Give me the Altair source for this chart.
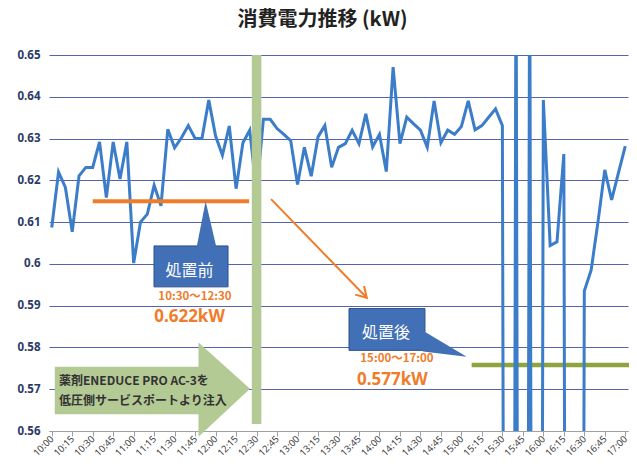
import altair as alt
import pandas as pd

# ---- data ----
minutes = list(range(0, 421, 5))  # 10:00 .. 17:00 every 5 minutes
power_kw = [
    0.6087, 0.6220, 0.6183, 0.6077, 0.6211, 0.6231, 0.6231, 0.6292, 0.6159, 0.6292,
    0.6203, 0.6292, 0.6002, 0.6100, 0.6119, 0.6188, 0.6139, 0.6322, 0.6278, 0.6302,
    0.6331, 0.6300, 0.6300, 0.6392, 0.6306, 0.6260, 0.6330, 0.6180, 0.6290, 0.6320,
    0.6170, 0.6346, 0.6346, 0.6324, 0.6310, 0.6295, 0.6190, 0.6279, 0.6210, 0.6304,
    0.6331, 0.6231, 0.6279, 0.6288, 0.6320, 0.6288, 0.6359, 0.6280, 0.6310, 0.6221,
    0.6471, 0.6288, 0.6351, 0.6335, 0.6320, 0.6279, 0.6390, 0.6290, 0.6320, 0.6310,
    0.6329, 0.6390, 0.6321, 0.6331, 0.6351, 0.6371, 0.6331, 0.0, 0.68, 0.0,
    0.68, 0.0, 0.6392, 0.6044, 0.6053, 0.6263, 0.0, 0.0, 0.5935, 0.5985,
    0.6100, 0.6225, 0.6153, 0.6218, 0.6282,
]
tick_minutes = list(range(0, 421, 15))
y_ticks = [0.56, 0.57, 0.58, 0.59, 0.60, 0.61, 0.62, 0.63, 0.64, 0.65]

title_text = "消費電力推移 (kW)"
before_label = "処置前"
before_period = "10:30～12:30"
before_value = "0.622kW"
after_label = "処置後"
after_period = "15:00～17:00"
after_value = "0.577kW"
inject_lines = ["薬剤ENEDUCE PRO AC-3を", "低圧側サービスポートより注入"]

# annotation anchors in data units (minutes after 10:00, kW)
before_avg = 0.615
after_avg = 0.5758

BLUE = "#3b7dc8"
ORANGE = "#f07c2a"
OLIVE = "#8ea43e"
LIGHTGREEN = "#b4ca95"
CALLOUT = "#4170b6"
CJK = "Noto Sans CJK JP"

df = pd.DataFrame({"m": minutes, "v": power_kw})

xscale = alt.Scale(domain=[-2, 422], nice=False, zero=False)
yscale = alt.Scale(domain=[0.56, 0.65], nice=False, zero=False)

label_expr = "(floor(datum.value/60)+10) + ':' + (datum.value % 60 == 0 ? '00' : '' + (datum.value % 60))"

x_axis = alt.Axis(
    values=tick_minutes, labelExpr=label_expr, labelAngle=-45, labelAlign="right",
    labelBaseline="middle", labelFontSize=9.5, labelColor="#404040", labelFont="Noto Sans",
    labelPadding=1, domainColor="#a0a0a0", tickColor="#a0a0a0", tickSize=5, grid=False,
    title=None, labelOverlap=False)
y_axis = alt.Axis(
    values=y_ticks, format=".2~f", grid=True, gridColor="#5563b0", gridWidth=1,
    domain=False, ticks=False, labelPadding=9, labelFontSize=11.5, labelFontWeight="bold",
    labelColor="#2b3a67", labelFont="Noto Sans", title=None)

X = lambda f: alt.X(f, type="quantitative", scale=xscale, axis=x_axis)
Y = lambda f: alt.Y(f, type="quantitative", scale=yscale, axis=y_axis)

# green horizontal line (after)
after_line = alt.Chart(pd.DataFrame({"m": [307.5], "m2": [423.0], "v": [after_avg]})).mark_rule(
    color=OLIVE, strokeWidth=4.5, strokeCap="butt"
).encode(x=X("m"), x2="m2:Q", y=Y("v"))

power_line = alt.Chart(df).mark_line(color=BLUE, strokeWidth=3, clip=True).encode(
    x=X("m"), y=Y("v")
)

before_line = alt.Chart(pd.DataFrame({"m": [30.0], "m2": [144.5], "v": [before_avg]})).mark_rule(
    color=ORANGE, strokeWidth=4, strokeCap="butt"
).encode(x=X("m"), x2="m2:Q", y=Y("v"))

inject_bar = alt.Chart(pd.DataFrame({"m": [146.5], "m2": [153.5], "v": [0.65], "v2": [0.5617]})).mark_rect(
    color=LIGHTGREEN
).encode(x=X("m"), x2="m2:Q", y=Y("v"), y2="v2:Q")

arrow_line = alt.Chart(pd.DataFrame({"m": [160.6], "v": [0.6155], "m2": [230.7], "v2": [0.5919]})).mark_rule(
    color=ORANGE, strokeWidth=2
).encode(x=X("m"), y=Y("v"), x2="m2:Q", y2="v2:Q")

arrow_head = alt.Chart(pd.DataFrame({"m": [230.7], "v": [0.5919]})).mark_point(
    shape="M-1,-0.6L0,0L-1,0.6", filled=False, stroke=ORANGE, strokeWidth=2, size=420, angle=46, opacity=1
).encode(x=X("m"), y=Y("v"))

# callout: before
c1_box = alt.Chart(pd.DataFrame({"m": [74.9], "m2": [129.1], "v": [0.6043], "v2": [0.5945]})).mark_rect(
    color=CALLOUT, stroke="#2b4f8c", strokeWidth=1
).encode(x=X("m"), x2="m2:Q", y=Y("v"), y2="v2:Q")
c1_tail = alt.Chart(pd.DataFrame({"m": [106.0, 112.7, 120.7], "v": [0.6038, 0.6150, 0.6038],
                                  "v2": [0.6038, 0.6038, 0.6038]})).mark_area(color=CALLOUT).encode(
    x=X("m"), y=Y("v"), y2="v2:Q")

# callout: after
c2_box = alt.Chart(pd.DataFrame({"m": [217.7], "m2": [273.3], "v": [0.5893], "v2": [0.5793]})).mark_rect(
    color=CALLOUT, stroke="#2b4f8c", strokeWidth=1
).encode(x=X("m"), x2="m2:Q", y=Y("v"), y2="v2:Q")
c2_tail = alt.Chart(pd.DataFrame({"m": [271.9, 303.9], "v": [0.5840, 0.5778],
                                  "v2": [0.5790, 0.5778]})).mark_area(color=CALLOUT).encode(
    x=X("m"), y=Y("v"), y2="v2:Q")

# green injection arrow
g_box = alt.Chart(pd.DataFrame({"m": [2.2], "m2": [108.1], "v": [0.5754], "v2": [0.5640]})).mark_rect(
    color=LIGHTGREEN
).encode(x=X("m"), x2="m2:Q", y=Y("v"), y2="v2:Q")
g_head = alt.Chart(pd.DataFrame({"m": [107.5, 145.2], "v": [0.5812, 0.5701],
                                 "v2": [0.5586, 0.5701]})).mark_area(color=LIGHTGREEN).encode(
    x=X("m"), y=Y("v"), y2="v2:Q")


def txt(m, v, s, size, color, weight="bold", align="center", font=CJK):
    return alt.Chart(pd.DataFrame({"m": [m], "v": [v], "t": [s]})).mark_text(
        fontSize=size, color=color, fontWeight=weight, align=align, baseline="middle", font=font
    ).encode(x=X("m"), y=Y("v"), text="t:N")


texts = [
    txt(100.9, 0.5982, before_label, 16, "white", weight="normal"),
    txt(104.9, 0.5921, before_period, 11.5, ORANGE),
    txt(100.9, 0.5872, before_value, 17, ORANGE, font="Noto Sans"),
    txt(244.8, 0.5835, after_label, 16, "white", weight="normal"),
    txt(252.8, 0.5773, after_period, 11.5, ORANGE),
    txt(249.5, 0.5721, after_value, 17, ORANGE, font="Noto Sans"),
    txt(5.3, 0.5720, inject_lines[0], 12, "#333333", align="left"),
    txt(5.3, 0.5671, inject_lines[1], 12, "#333333", align="left"),
]

chart = alt.layer(
    after_line, power_line, before_line, inject_bar, arrow_line, arrow_head,
    c1_box, c1_tail, c2_box, c2_tail, g_box, g_head, *texts
).properties(
    width=579, height=376,
    autosize=alt.AutoSizeParams(type="none"),
    padding={"left": 41, "top": 47, "right": 1, "bottom": 27},
    title=alt.TitleParams(text=title_text, fontSize=20, fontWeight="bold", font=CJK, color="#222222",
                          anchor="middle", offset=3, dx=-16, baseline="alphabetic", frame="group"),
).configure(background="white", view=alt.ViewConfig(stroke=None))

chart.save("out.html", embed_options={"renderer": "svg", "actions": False})
